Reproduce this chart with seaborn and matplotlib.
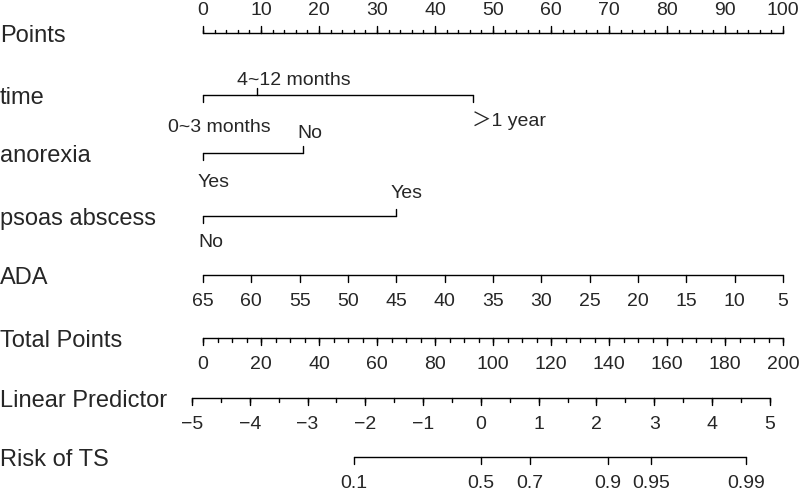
import numpy as np
import pandas as pd
import matplotlib.pyplot as plt
import seaborn as sns

# nomogram scales (values on the 0-100 "Points" scale)
points_ticks = list(range(0, 101, 10))
time_levels = ['0~3 months', '4~12 months', '\uff1e1 year']
time_points = [0, 9.3, 46.5]
anorexia_levels = ['Yes', 'No']
anorexia_points = [0, 17.2]
psoas_levels = ['No', 'Yes']
psoas_points = [0, 33.3]
ada_ticks = [65, 60, 55, 50, 45, 40, 35, 30, 25, 20, 15, 10, 5]
total_ticks = list(range(0, 201, 20))
lp_ticks = [-5, -4, -3, -2, -1, 0, 1, 2, 3, 4, 5]
lp_intercept = -4.81
lp_slope = 0.0502
risk_ticks = [0.1, 0.5, 0.7, 0.9, 0.95, 0.99]

row_names = ['Points', 'time', 'anorexia', 'psoas abscess', 'ADA',
             'Total Points', 'Linear Predictor', 'Risk of TS']
row_y = [33, 95, 153, 216, 275, 338, 398, 457]

# label placement of categorical levels (pixels: left edge from tick, baseline from line)
time_dx, time_dy = [-35, -20, -1], [37, -10, 31]
anorexia_dx, anorexia_dy = [-5, -5], [34, -15]
psoas_dx, psoas_dy = [-5, -6], [31, -18]

PX = 5.8  # pixels per point

sns.set_style('white')
plt.rcParams['font.family'] = ['Liberation Sans', 'Noto Sans CJK SC', 'DejaVu Sans']

fig = plt.figure(figsize=(8, 4.95), dpi=100)
ax = fig.add_axes([0, 0, 1, 1])

segs = []
texts = []


def seg(x0, y0, x1, y1):
    k = len(segs)
    segs.append((x0, y0, k))
    segs.append((x1, y1, k))


def scale_row(y, xs, labels, up, minor=None, big=7, small=3.5):
    allx = list(xs) + list(minor if minor is not None else [])
    seg(min(allx), y, max(allx), y)
    d = -1 if up else 1
    for x, lab in zip(xs, labels):
        seg(x, y, x, y + d * big)
        texts.append((x, y + (-18 if up else 31), lab, 'center'))
    for x in (minor if minor is not None else []):
        seg(x, y, x, y + d * small)


def cat_row(y, xs, labels, dxs, dys):
    seg(min(xs), y, max(xs), y)
    for x, lab, dx, dy in zip(xs, labels, dxs, dys):
        d = -1 if dy < 0 else 1
        seg(x, y, x, y + d * 7)
        texts.append((x + dx / PX, y + dy, lab, 'left'))


# Points
scale_row(row_y[0], points_ticks, [str(t) for t in points_ticks], True,
          minor=np.arange(0, 101, 2))
# categorical predictors
cat_row(row_y[1], time_points, time_levels, time_dx, time_dy)
cat_row(row_y[2], anorexia_points, anorexia_levels, anorexia_dx, anorexia_dy)
cat_row(row_y[3], psoas_points, psoas_levels, psoas_dx, psoas_dy)
# ADA: 65 -> 0 points, 5 -> 100 points
ada_x = [(65 - v) / 60 * 100 for v in ada_ticks]
scale_row(row_y[4], ada_x, [str(v) for v in ada_ticks], False)
# Total points (0-200 spans the 0-100 points scale)
scale_row(row_y[5], [t / 2 for t in total_ticks], [str(t) for t in total_ticks], False,
          minor=[t / 2 for t in range(0, 201, 5)])
# Linear predictor
lp_x = [(v - lp_intercept) / lp_slope / 2 for v in lp_ticks]
lp_minor = [(v - lp_intercept) / lp_slope / 2 for v in np.arange(-5, 5.01, 0.5)]
scale_row(row_y[6], lp_x, ['\u2212' + str(-v) if v < 0 else str(v) for v in lp_ticks], False,
          minor=lp_minor)
# Risk
risk_lp = [np.log(p / (1 - p)) for p in risk_ticks]
risk_x = [(v - lp_intercept) / lp_slope / 2 for v in risk_lp]
scale_row(row_y[7], risk_x, [str(p) for p in risk_ticks], False)

df = pd.DataFrame(segs, columns=['x', 'y', 'seg'])
sns.lineplot(data=df, x='x', y='y', units='seg', estimator=None, sort=False,
             color='black', lw=1.0, ax=ax, legend=False)

for x, y, lab, ha in texts:
    ax.text(x, y, lab, ha=ha, va='baseline', fontsize=14)

for name, y in zip(row_names, row_y):
    ax.text(-203 / PX, y + 9, name, ha='left', va='baseline', fontsize=17)

ax.set_xlim(-203 / PX, (800 - 203) / PX)
ax.set_ylim(495, 0)
ax.axis('off')

fig.savefig('out.png', dpi=100)
